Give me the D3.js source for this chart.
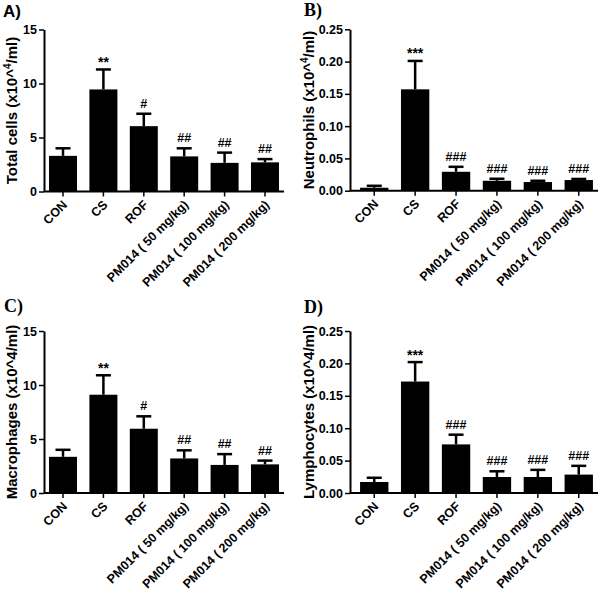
<!DOCTYPE html>
<html>
<head>
<meta charset="utf-8">
<script src="https://cdn.jsdelivr.net/npm/d3@7"></script>
<style>
  body { margin: 0; background: #fff; }
  svg { display: block; }
  text { font-family: "Liberation Sans", Arial, sans-serif; font-weight: bold; fill: #000; }
</style>
</head>
<body>
<svg id="chart" width="600" height="590"></svg>
<script>
// ---- data ----
const categories = ["CON", "CS", "ROF", "PM014 ( 50 mg/kg)", "PM014 ( 100 mg/kg)", "PM014 ( 200 mg/kg)"];

const totalMean = [3.3, 9.45, 6.05, 3.25, 2.65, 2.7];
const totalSem  = [0.7, 1.85, 1.15, 0.75, 0.95, 0.3];
const totalSig  = ["", "**", "#", "##", "##", "##"];

const neutroMean = [0.0046, 0.157, 0.0293, 0.0154, 0.0134, 0.0165];
const neutroSem  = [0.003, 0.044, 0.0077, 0.0031, 0.002, 0.0017];
const neutroSig  = ["", "***", "###", "###", "###", "###"];

const macroMean = [3.35, 9.1, 5.95, 3.2, 2.6, 2.65];
const macroSem  = [0.65, 1.8, 1.15, 0.75, 1.0, 0.35];
const macroSig  = ["", "**", "#", "##", "##", "##"];

const lymphoMean = [0.017, 0.172, 0.075, 0.0247, 0.0247, 0.0284];
const lymphoSem  = [0.0065, 0.030, 0.015, 0.0088, 0.011, 0.0135];
const lymphoSig  = ["", "***", "###", "###", "###", "###"];

const yTicksCells = [0, 5, 10, 15];
const yTicksFrac  = [0, 0.05, 0.10, 0.15, 0.20, 0.25];

const panels = [
  { label: "A)", labelFont: "sans", lx: 3, ly: 17, mean: totalMean, sem: totalSem, sig: totalSig,
    title: ["Total cells (x10^", "4", "/ml)"], max: 15, ticks: yTicksCells, fmt: d3.format("d"),
    axisX: 44, bandStart: 44, bandEnd: 284, yTop: 29.5, yBottom: 191.5, titleX: 17 },
  { label: "B)", labelFont: "serif", lx: 304, ly: 16, mean: neutroMean, sem: neutroSem, sig: neutroSig,
    title: ["Neutrophils (x10^", "4", "/ml)"], max: 0.25, ticks: yTicksFrac, fmt: d3.format(".2f"),
    axisX: 350, bandStart: 355, bandEnd: 598, yTop: 29.3, yBottom: 190.7, titleX: 314 },
  { label: "C)", labelFont: "serif", lx: 4, ly: 312, mean: macroMean, sem: macroSem, sig: macroSig,
    title: ["Macrophages (x10^4/ml)"], max: 15, ticks: yTicksCells, fmt: d3.format("d"),
    axisX: 44, bandStart: 44, bandEnd: 284, yTop: 331, yBottom: 493, titleX: 17 },
  { label: "D)", labelFont: "serif", lx: 304, ly: 313, mean: lymphoMean, sem: lymphoSem, sig: lymphoSig,
    title: ["Lymphocytes (x10^4/ml)"], max: 0.25, ticks: yTicksFrac, fmt: d3.format(".2f"),
    axisX: 350, bandStart: 355, bandEnd: 598, yTop: 331, yBottom: 493, titleX: 314 }
];

const svg = d3.select("#chart");

panels.forEach(p => {
  const g = svg.append("g");
  const x = d3.scaleBand().domain(categories).range([p.bandStart, p.bandEnd])
    .paddingInner(0.307).paddingOuter(0.124);
  const y = d3.scaleLinear().domain([0, p.max]).range([p.yBottom, p.yTop]);

  // panel label
  g.append("text").attr("x", p.lx).attr("y", p.ly)
    .style("font-family", p.labelFont === "serif" ? "'Liberation Serif', 'Times New Roman', serif" : "'Liberation Sans', Arial, sans-serif")
    .style("font-size", p.labelFont === "serif" ? "18px" : "17px")
    .text(p.label);

  // error bars (upper only)
  const capHalf = 7.5;
  categories.forEach((c, i) => {
    const cx = x(c) + x.bandwidth() / 2;
    const top = y(p.mean[i] + p.sem[i]);
    g.append("line").attr("x1", cx).attr("x2", cx)
      .attr("y1", y(p.mean[i])).attr("y2", top)
      .attr("stroke", "#000").attr("stroke-width", 2.5);
    g.append("line").attr("x1", cx - capHalf).attr("x2", cx + capHalf)
      .attr("y1", top).attr("y2", top)
      .attr("stroke", "#000").attr("stroke-width", 2.5);
    if (p.sig[i]) {
      const isStar = p.sig[i].indexOf("*") >= 0;
      g.append("text").attr("x", cx).attr("y", top - (isStar ? 2.5 : 6))
        .attr("text-anchor", "middle").style("font-size", isStar ? "14px" : "12.5px")
        .text(p.sig[i]);
    }
  });

  // bars
  g.selectAll("rect.bar").data(categories).enter().append("rect")
    .attr("class", "bar")
    .attr("x", d => x(d))
    .attr("width", x.bandwidth())
    .attr("y", (d, i) => y(p.mean[i]))
    .attr("height", (d, i) => y(0) - y(p.mean[i]))
    .attr("fill", "#000");

  // y axis
  const ya = g.append("g").attr("transform", `translate(${p.axisX},0)`)
    .call(d3.axisLeft(y).tickValues(p.ticks).tickFormat(p.fmt).tickSize(5).tickPadding(2).tickSizeOuter(0));
  ya.select(".domain").attr("stroke-width", 2);
  ya.selectAll(".tick line").attr("stroke-width", 1.5);
  ya.selectAll(".tick text").style("font-size", "12.5px").style("font-family", "'Liberation Sans', Arial, sans-serif").style("font-weight", "bold");

  // x axis
  const xa = g.append("g").attr("transform", `translate(0,${p.yBottom})`)
    .call(d3.axisBottom(x).tickSize(5).tickSizeOuter(0));
  xa.select(".domain").attr("d", `M${p.axisX},0H${p.bandEnd}`).attr("stroke-width", 2);
  xa.selectAll(".tick line").attr("stroke-width", 1.5);
  xa.selectAll(".tick text")
    .style("font-size", "12.5px").style("font-family", "'Liberation Sans', Arial, sans-serif").style("font-weight", "bold")
    .attr("text-anchor", "end")
    .attr("dy", null)
    .attr("y", null)
    .attr("transform", "translate(5,14) rotate(-45)");

  // y title
  const cy = (p.yTop + p.yBottom) / 2;
  const t = g.append("text")
    .attr("transform", `translate(${p.titleX},${cy}) rotate(-90)`)
    .attr("text-anchor", "middle")
    .style("font-size", "15px");
  if (p.title.length === 3) {
    t.append("tspan").text(p.title[0]);
    t.append("tspan").attr("dy", -6).style("font-size", "10px").text(p.title[1]);
    t.append("tspan").attr("dy", 6).text(p.title[2]);
  } else {
    t.text(p.title[0]);
  }
});
</script>
</body>
</html>
